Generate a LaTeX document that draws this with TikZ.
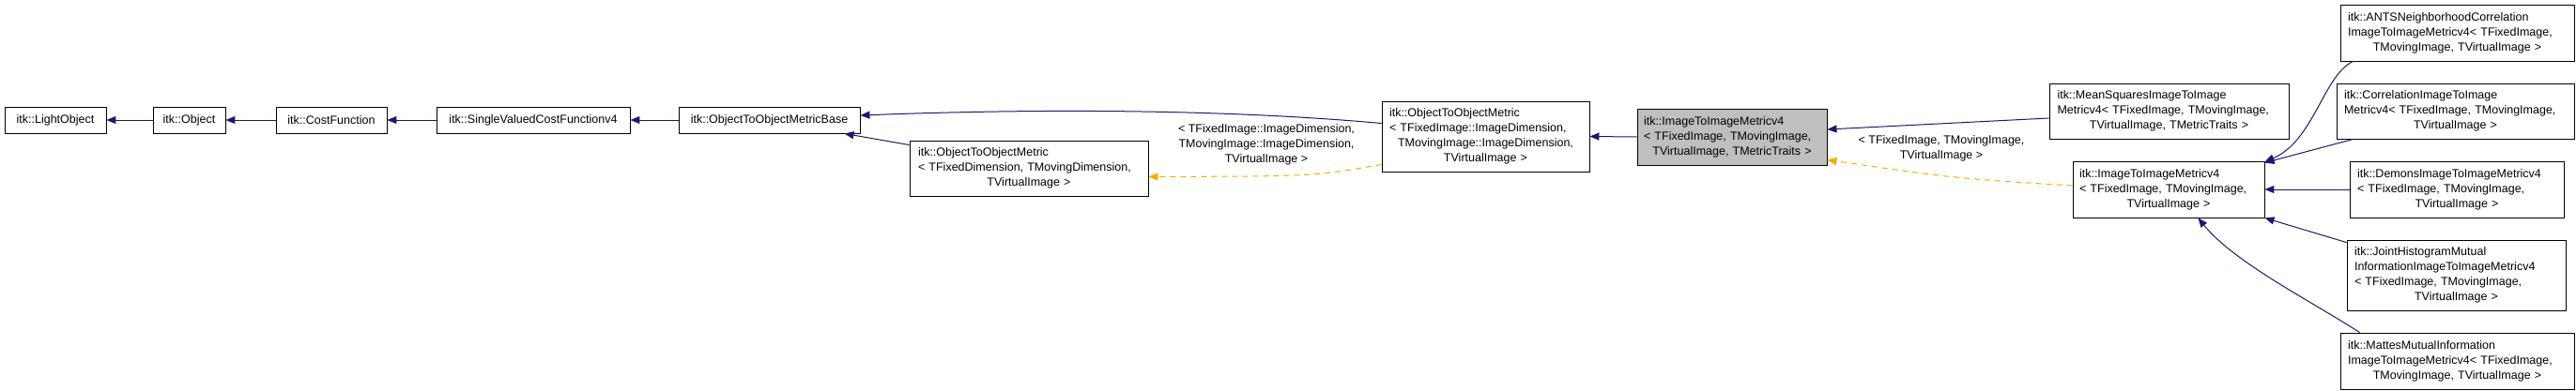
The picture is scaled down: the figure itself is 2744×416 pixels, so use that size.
\documentclass[tikz,border=0pt]{standalone}
\usepackage{fontspec}
\setmainfont{Liberation Sans}
\usetikzlibrary{arrows.meta,calc}
\definecolor{navy}{HTML}{191970}
\definecolor{orng}{HTML}{FFA500}
\newcommand{\fl}[1]{\makebox[\linewidth][l]{#1}}
\begin{document}
\begin{tikzpicture}[x=1pt,y=-1pt,
  bx/.style={draw=black,line width=0.9pt,fill=white,inner sep=0pt,font=\fontsize{12.5}{16}\selectfont,align=center},
  inh/.style={navy,line width=1pt,-{Triangle[length=10pt,width=8pt]}},
  tpl/.style={orng,line width=1pt,dashed,dash pattern=on 6pt off 5pt,-{Triangle[length=10pt,width=8pt]}},
  lbl/.style={font=\fontsize{12.5}{16}\selectfont,align=center,inner sep=0pt}]
\useasboundingbox (0,0) rectangle (2744,416);
\fill[white] (0,0) rectangle (2744,416);
\node[bx,minimum width=108pt,minimum height=28pt] (LO) at (59,128) {itk::LightObject};
\node[bx,minimum width=77pt,minimum height=28pt] (OB) at (201.5,128) {itk::Object};
\node[bx,minimum width=118pt,minimum height=28pt] (CF) at (353,128) {itk::CostFunction};
\node[bx,minimum width=206pt,minimum height=28pt] (SV) at (568,128) {itk::SingleValuedCostFunctionv4};
\node[bx,minimum width=193pt,minimum height=28pt] (BA) at (819.5,128) {itk::ObjectToObjectMetricBase};
\node[bx,minimum width=254pt,minimum height=59pt,text width=236pt] (OTD) at (1096,179.5) {\fl{itk::ObjectToObjectMetric}\\\fl{< TFixedDimension, TMovingDimension,}\\TVirtualImage >};
\node[bx,minimum width=221pt,minimum height=75pt,text width=205pt] (OTI) at (1582.5,145.5) {\fl{itk::ObjectToObjectMetric}\\\fl{< TFixedImage::ImageDimension,}\\TMovingImage::ImageDimension,\\TVirtualImage >};
\node[bx,fill=gray!50,minimum width=202pt,minimum height=60pt,text width=188pt] (IG) at (1845,146) {\fl{itk::ImageToImageMetricv4}\\\fl{< TFixedImage, TMovingImage,}\\TVirtualImage, TMetricTraits >};
\node[bx,minimum width=255pt,minimum height=59pt,text width=238pt] (MS) at (2310.5,118.5) {\fl{itk::MeanSquaresImageToImage}\\\fl{Metricv4< TFixedImage, TMovingImage,}\\TVirtualImage, TMetricTraits >};
\node[bx,minimum width=204pt,minimum height=60pt,text width=190pt] (I3) at (2310,202) {\fl{itk::ImageToImageMetricv4}\\\fl{< TFixedImage, TMovingImage,}\\TVirtualImage >};
\node[bx,minimum width=249pt,minimum height=60pt,text width=233pt] (AN) at (2617.5,35) {\fl{itk::ANTSNeighborhoodCorrelation}\\\fl{ImageToImageMetricv4< TFixedImage,}\\TMovingImage, TVirtualImage >};
\node[bx,minimum width=253pt,minimum height=59pt,text width=237pt] (CO) at (2615.5,118.5) {\fl{itk::CorrelationImageToImage}\\\fl{Metricv4< TFixedImage, TMovingImage,}\\TVirtualImage >};
\node[bx,minimum width=228pt,minimum height=60pt,text width=212pt] (DE) at (2617,202) {\fl{itk::DemonsImageToImageMetricv4}\\\fl{< TFixedImage, TMovingImage,}\\TVirtualImage >};
\node[bx,minimum width=233pt,minimum height=75pt,text width=217pt] (JH) at (2616.5,293.5) {\fl{itk::JointHistogramMutual}\\\fl{InformationImageToImageMetricv4}\\\fl{< TFixedImage, TMovingImage,}\\TVirtualImage >};
\node[bx,minimum width=249pt,minimum height=60pt,text width=233pt] (MA) at (2617.5,385) {\fl{itk::MattesMutualInformation}\\\fl{ImageToImageMetricv4< TFixedImage,}\\TMovingImage, TVirtualImage >};
% edges
\draw[inh] (OB.west) -- (LO.east);
\draw[inh] (CF.west) -- (OB.east);
\draw[inh] (SV.west) -- (CF.east);
\draw[inh] (BA.west) -- (SV.east);
\draw[inh] ([yshift=-5pt]OTD.north west) -- ([xshift=-17pt]BA.south east);
\draw[inh] ([yshift=14pt]OTI.west) .. controls (1300,116) and (1100,116) .. ([yshift=5pt]BA.east);
\draw[tpl] ([yshift=8pt]OTI.south west) .. controls (1400,188) .. ([yshift=21pt]OTD.south east);
\node[lbl] (L1) at (1349,154) {< TFixedImage::ImageDimension,\\TMovingImage::ImageDimension,\\TVirtualImage >};
\draw[inh] (IG.west) -- (OTI.east);
\draw[inh] ([yshift=-7.5pt]MS.west) -- ([yshift=8pt]IG.east);
\draw[tpl] ([yshift=4pt]I3.west) .. controls (2080,190) .. ([yshift=6pt]IG.south east);
\node[lbl] (L2) at (2068,158) {< TFixedImage, TMovingImage,\\TVirtualImage >};
\draw[inh] ([xshift=14pt]AN.south west) .. controls (2475,80) and (2465,150) .. ([yshift=-1pt]I3.north east);
\draw[inh] ([xshift=18pt]CO.south west) -- ([yshift=-2pt]I3.north east);
\draw[inh] (DE.west) -- (I3.east);
\draw[inh] ([yshift=-3pt]JH.north west) -- (I3.south east);
\draw[inh] ([xshift=21pt]MA.north west) .. controls (2460,320) and (2380,280) .. ([xshift=-71pt]I3.south east);
\end{tikzpicture}
\end{document}
